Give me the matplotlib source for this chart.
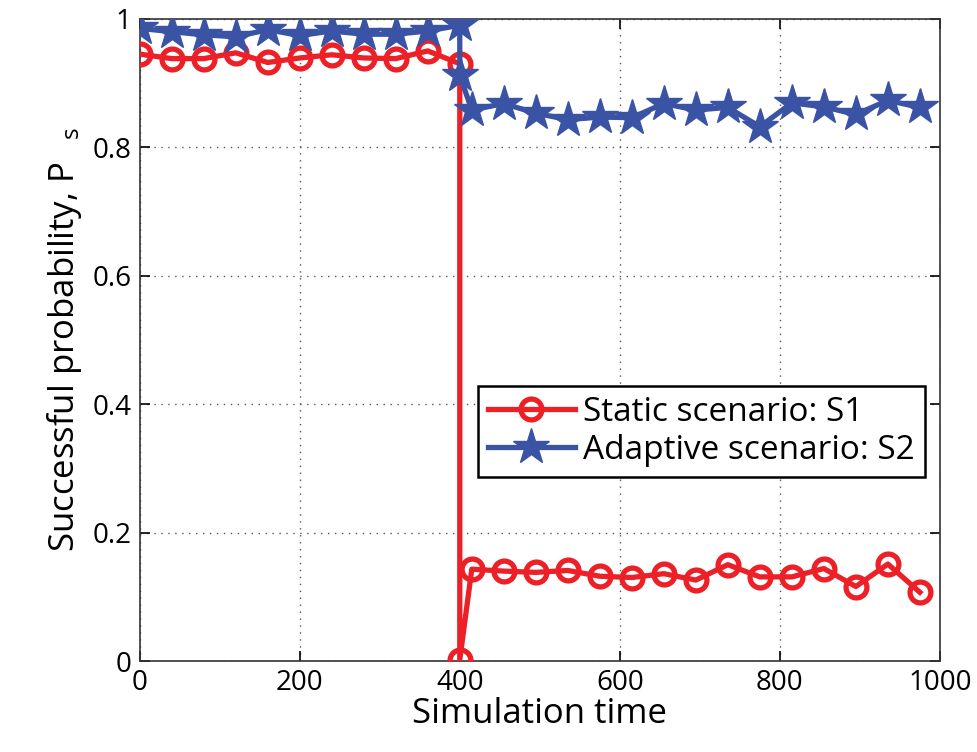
import matplotlib as mpl
import matplotlib.pyplot as plt
import numpy as np

mpl.rc('font', family=['Open Sans', 'DejaVu Sans'])
mpl.rc('mathtext', fontset='custom', rm='Open Sans', it='Open Sans')

# static scenario S1
t_s1 = [0, 40, 80, 120, 160, 200, 240, 280, 320, 360, 400, 400,
        415, 455, 495, 535, 575, 615, 655, 695, 735, 775, 815, 855, 895, 935, 975]
p_s1 = [0.945, 0.938, 0.938, 0.947, 0.932, 0.939, 0.944, 0.939, 0.938, 0.950, 0.930, 0.002,
        0.143, 0.140, 0.138, 0.141, 0.132, 0.130, 0.136, 0.126, 0.150, 0.131, 0.131, 0.144, 0.116, 0.151, 0.107]

# adaptive scenario S2
t_s2 = [0, 40, 80, 120, 160, 200, 240, 280, 320, 360, 400, 400,
        415, 455, 495, 535, 575, 615, 655, 695, 735, 775, 815, 855, 895, 935, 975]
p_s2 = [0.985, 0.980, 0.975, 0.972, 0.983, 0.974, 0.981, 0.976, 0.976, 0.981, 0.990, 0.912,
        0.858, 0.868, 0.853, 0.843, 0.847, 0.846, 0.868, 0.858, 0.862, 0.832, 0.869, 0.863, 0.851, 0.873, 0.862]

red = '#ED2027'
blue = '#3A53A4'

fig = plt.figure(figsize=(9.77, 7.52), dpi=100)
ax = fig.add_axes([0.143, 0.121, 0.819, 0.854])

ax.plot(t_s1, p_s1, '-o', color=red, lw=3.8, ms=15, mew=3.8, mfc='none',
        label='Static scenario: S1', zorder=3)
ax.plot(t_s2, p_s2, '-*', color=blue, lw=3.8, ms=27, mew=1, mfc=blue,
        label='Adaptive scenario: S2', zorder=3)

ax.set_xlim(0, 1000)
ax.set_ylim(0, 1)
ax.set_xticks(np.arange(0, 1001, 200))
ax.set_yticks([0, 0.2, 0.4, 0.6, 0.8, 1])
ax.set_yticklabels(['0', '0.2', '0.4', '0.6', '0.8', '1'])
ax.tick_params(direction='in', labelsize=20, length=7, width=1.2,
               top=True, right=True, pad=6)
ax.grid(True, linestyle=(0, (1, 4)), color='#555555', lw=1)
for s in ax.spines.values():
    s.set_linewidth(1.2)
    s.set_color('#333333')

ax.set_xlabel('Simulation time', fontsize=25, labelpad=0)
ax.set_ylabel('Successful probability, P$\\ \\ _{s}$', fontsize=25, labelpad=6)

leg = ax.legend(loc='lower right', bbox_to_anchor=(0.981, 0.287), borderaxespad=0,
                fontsize=24, frameon=True, fancybox=False, edgecolor='black',
                framealpha=1, handlelength=2.6, handletextpad=0.25,
                borderpad=0.3, labelspacing=0.15)
leg.get_frame().set_linewidth(1.8)

plt.savefig('out.png', dpi=100)
